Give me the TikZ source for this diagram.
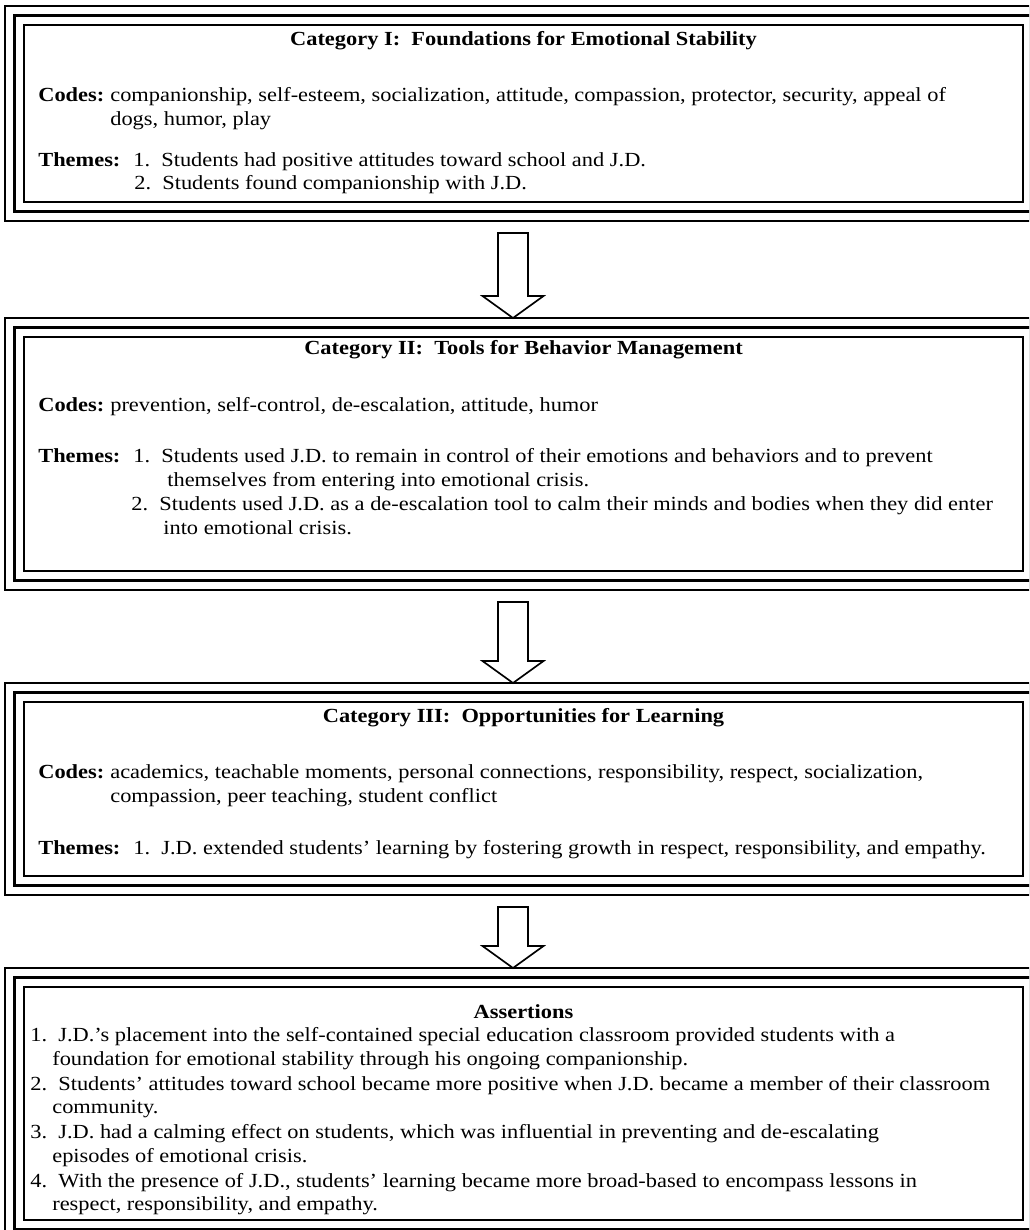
\documentclass[tikz,border=0pt]{standalone}
\usepackage{fontspec}
\setmainfont{Liberation Serif}[FakeStretch=1.12]
\usetikzlibrary{calc}

\begin{document}
\begin{tikzpicture}[x=0.6pt,y=-0.6pt]
		\tikzset{every node/.style = {font=\fontsize{12}{14.4}\selectfont, inner sep=0pt}}
		\tikzset{catbox/.style = {draw, line width=1pt, double, double distance=10.4pt,
			outer sep=0pt, minimum width=610.8pt}}
		\tikzset{midline/.style = {line width=2.2pt}}
		\tikzset{head/.style = {font=\fontsize{12}{14.4}\selectfont\bfseries, anchor=base}}
		\tikzset{tag/.style = {font=\fontsize{12}{14.4}\selectfont\bfseries, anchor=base west}}
		\tikzset{txt/.style = {anchor=base west}}
		\tikzset{blockarrow/.style = {line width=1pt, to path={
			let \p1 = (\tikztostart.south), \p2 = (\tikztotarget.north) in
			(\x1-15.3pt,\y1-12.9pt) -- (\x1-15.3pt,\y2+18.9pt) -- (\x1-24.6pt,\y2+18.9pt)
			-- (\x1-6.3pt,\y2+5.7pt) -- (\x1+12pt,\y2+18.9pt) -- (\x1+2.7pt,\y2+18.9pt)
			-- (\x1+2.7pt,\y1-12.9pt) -- cycle}}}
		\useasboundingbox (0,0) rectangle (1029,1230);
		\clip (0,0) rectangle (1029,1230);
		% boxes
		\node[catbox, minimum height=117.6pt] (cat1) at (523.5,113.5) {};
		\node[catbox, minimum height=151.8pt] (cat2) at (523.5,454) {};
		\node[catbox, minimum height=115.8pt] (cat3) at (523.5,789) {};
		\node[catbox, minimum height=151.2pt] (cat4) at (523.5,1103.5) {};
		\draw[midline] (cat1.north west) rectangle (cat1.south east);
		\draw[midline] (cat2.north west) rectangle (cat2.south east);
		\draw[midline] (cat3.north west) rectangle (cat3.south east);
		\draw[midline] (cat4.north west) rectangle (cat4.south east);

		% category I
		\node[head] (h1) at (523.5,45) {Category I:\ \ Foundations for Emotional Stability};
		\node[tag] (c1) at (38,101) {Codes:};
		\node[txt] (c1a) at (110,101) {companionship, self-esteem, socialization, attitude, compassion, protector, security, appeal of};
		\node[txt] (c1b) at (110,125) {dogs, humor, play};
		\node[tag] (m1) at (38,166) {Themes:};
		\node[txt] (m1a) at (133,166) {1.\ \ Students had positive attitudes toward school and J.D.};
		\node[txt] (m1b) at (134,189) {2.\ \ Students found companionship with J.D.};

		% category II
		\node[head] (h2) at (523.5,354) {Category II:\ \ Tools for Behavior Management};
		\node[tag] (c2) at (38,411) {Codes:};
		\node[txt] (c2a) at (110,411) {prevention, self-control, de-escalation, attitude, humor};
		\node[tag] (m2) at (38,462) {Themes:};
		\node[txt] (m2a) at (133,462) {1.\ \ Students used J.D. to remain in control of their emotions and behaviors and to prevent};
		\node[txt] (m2b) at (167,486) {themselves from entering into emotional crisis.};
		\node[txt] (m2c) at (131,510) {2.\ \ Students used J.D. as a de-escalation tool to calm their minds and bodies when they did enter};
		\node[txt] (m2d) at (163,534) {into emotional crisis.};

		% category III
		\node[head] (h3) at (523.5,722) {Category III:\ \ Opportunities for Learning};
		\node[tag] (c3) at (38,778) {Codes:};
		\node[txt] (c3a) at (110,778) {academics, teachable moments, personal connections, responsibility, respect, socialization,};
		\node[txt] (c3b) at (110,802) {compassion, peer teaching, student conflict};
		\node[tag] (m3) at (38,854) {Themes:};
		\node[txt] (m3a) at (133,854) {1.\ \ J.D. extended students’ learning by fostering growth in respect, responsibility, and empathy.};

		% assertions
		\node[head] (h4) at (523.5,1018) {Assertions};
		\node[txt] (a1) at (30,1041) {1.\ \ J.D.’s placement into the self-contained special education classroom provided students with a};
		\node[txt] (a1b) at (52,1065) {foundation for emotional stability through his ongoing companionship.};
		\node[txt] (a2) at (30,1090) {2.\ \ Students’ attitudes toward school became more positive when J.D. became a member of their classroom};
		\node[txt] (a2b) at (52,1113) {community.};
		\node[txt] (a3) at (30,1138) {3.\ \ J.D. had a calming effect on students, which was influential in preventing and de-escalating};
		\node[txt] (a3b) at (52,1162) {episodes of emotional crisis.};
		\node[txt] (a4) at (30,1187) {4.\ \ With the presence of J.D., students’ learning became more broad-based to encompass lessons in};
		\node[txt] (a4b) at (52,1210) {respect, responsibility, and empathy.};

		% arrows
		\draw[blockarrow] (cat1) to (cat2);
		\draw[blockarrow] (cat2) to (cat3);
		\draw[blockarrow] (cat3) to (cat4);
\end{tikzpicture}
\end{document}
